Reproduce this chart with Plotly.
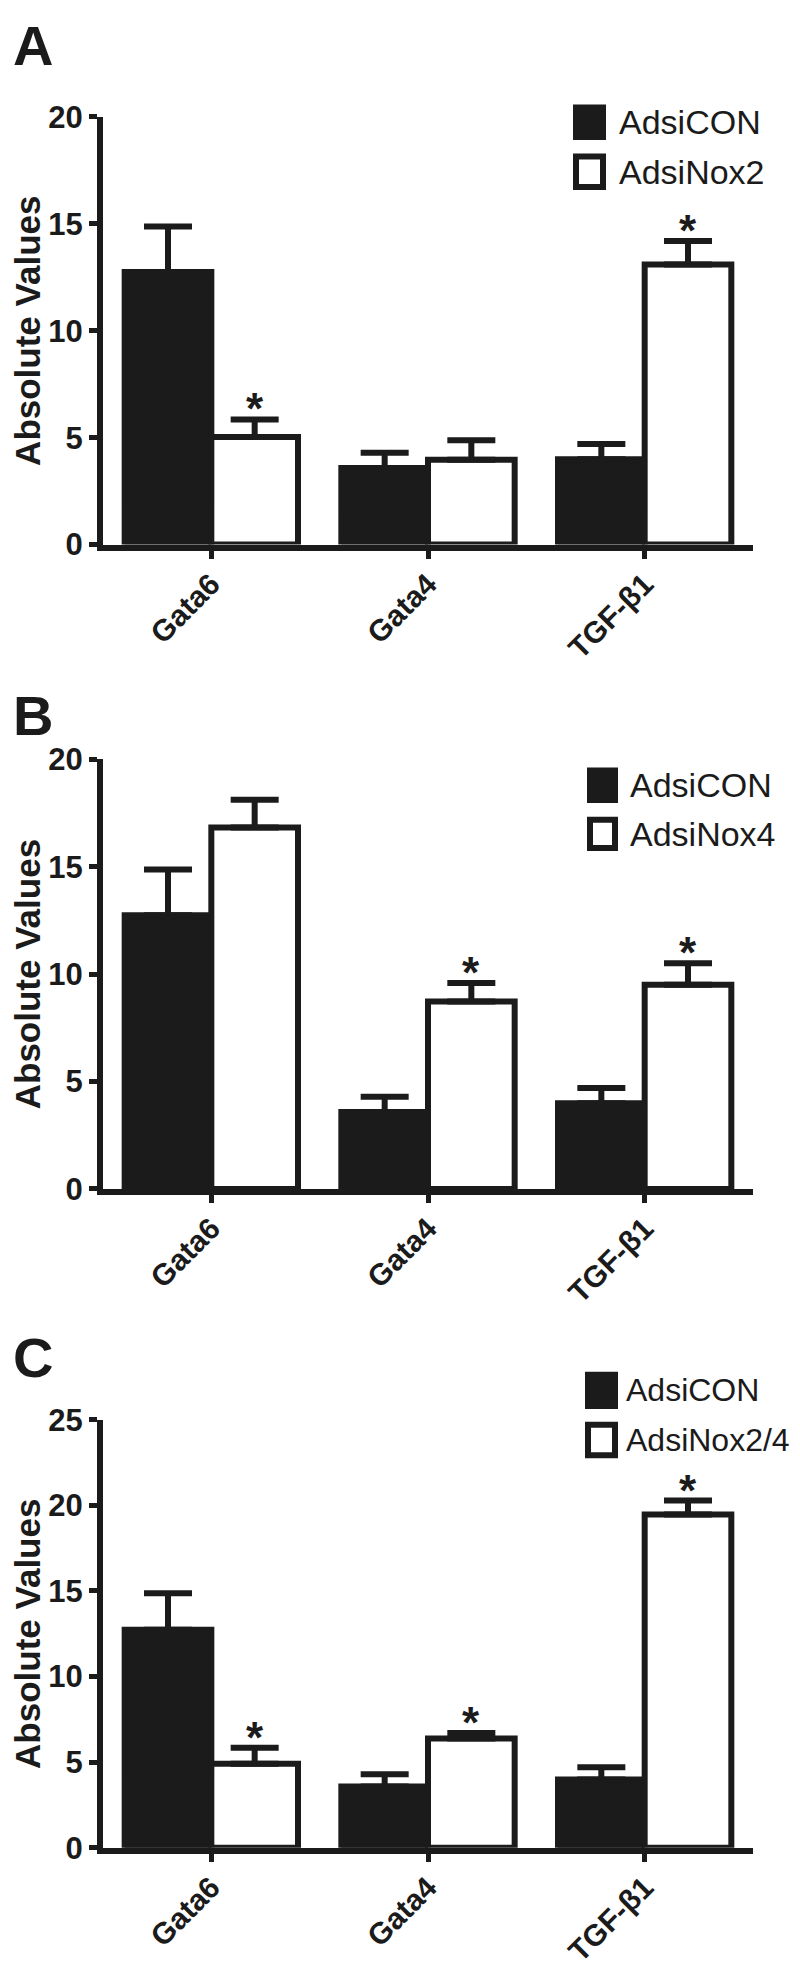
import plotly.graph_objects as go

# ---------------- data ----------------
categories = ["Gata6", "Gata4", "TGF-β1"]

con_name = "AdsiCON"
con_vals = [12.74, 3.58, 3.99]
con_err = [2.13, 0.71, 0.71]

a_name = "AdsiNox2"
a_vals = [5.03, 3.97, 13.10]
a_err = [0.82, 0.91, 1.09]
a_sig = [True, False, True]

b_name = "AdsiNox4"
b_vals = [16.82, 8.73, 9.50]
b_err = [1.29, 0.85, 1.00]
b_sig = [False, True, True]

c_name = "AdsiNox2/4"
c_vals = [4.91, 6.38, 19.47]
c_err = [0.93, 0.32, 0.81]
c_sig = [True, True, True]

panel_letters = ["A", "B", "C"]
y_max = [20, 20, 25]
y_ticks = [[0, 5, 10, 15, 20], [0, 5, 10, 15, 20], [0, 5, 10, 15, 20, 25]]

# ---------------- styling ----------------
W, H = 800, 1971
INK = "#1b1b1b"
FONT = "Liberation Sans, Arial, Helvetica, sans-serif"
LW = 6
BARGAP = 0.2

# panel geometry in pixels: (top of axis, zero line)
panel_px = [(93.5, 529.0), (747.5, 1185.0), (1420.0, 1855.7)]
x_left_px, x_right_px = 95.0, 745.0
letter_cy = [21, 703, 1357]
legend_px = [  # (square x0, square x1, text x, black y0, black y1, white y0, white y1, font)
    (565, 598, 609, 81, 117, 131, 168, 34),
    (579, 610, 620, 756, 792, 806, 841, 34),
    (577, 610, 616, 1371, 1409, 1422, 1459, 32),
]


def px_x(x):
    return x / W


def px_y(y):
    return 1 - y / H


fig = go.Figure()
series = [(a_name, a_vals, a_err, a_sig), (b_name, b_vals, b_err, b_sig), (c_name, c_vals, c_err, c_sig)]
xs = list(range(len(categories)))
annotations = []
shapes = []

for p, (name, vals, errs, sig) in enumerate(series):
    suffix = "" if p == 0 else str(p + 1)
    xa, ya = "x" + suffix, "y" + suffix
    fig.add_trace(go.Bar(
        x=xs, y=con_vals, name=con_name, xaxis=xa, yaxis=ya,
        marker=dict(color=INK, line=dict(color=INK, width=LW)),
        error_y=dict(type="data", array=con_err, symmetric=False,
                     arrayminus=[0] * len(con_err), color=INK, thickness=LW, width=24),
        offsetgroup="con", showlegend=False,
    ))
    fig.add_trace(go.Bar(
        x=xs, y=vals, name=name, xaxis=xa, yaxis=ya,
        marker=dict(color="white", line=dict(color=INK, width=LW)),
        error_y=dict(type="data", array=errs, symmetric=False,
                     arrayminus=[0] * len(errs), color=INK, thickness=LW, width=24),
        offsetgroup="trt", showlegend=False,
    ))
    top, zero = panel_px[p]
    fig.layout["xaxis" + suffix] = dict(
        domain=[px_x(x_left_px), px_x(x_right_px)], anchor=ya,
        range=[-0.5, 2.5], tickvals=xs, ticktext=categories, tickangle=-45,
        showline=True, linewidth=LW, linecolor=INK, ticks="outside",
        ticklen=8, tickwidth=5, tickcolor=INK, showgrid=False, zeroline=False,
        ticklabelstandoff=-4,
        tickfont=dict(family=FONT, size=30, color=INK, weight="bold"),
    )
    fig.layout["yaxis" + suffix] = dict(
        domain=[px_y(zero), px_y(top)], anchor=xa,
        range=[0, y_max[p]], tickvals=y_ticks[p],
        showline=True, linewidth=LW, linecolor=INK, ticks="outside",
        ticklen=8, tickwidth=5, tickcolor=INK, showgrid=False, zeroline=False,
        tickfont=dict(family=FONT, size=31, color=INK, weight="bold"),
        title=dict(text="Absolute Values", standoff=16,
                   font=dict(family=FONT, size=35, color=INK, weight="bold")),
    )
    # significance stars
    off = (1 - BARGAP) / 4
    for i, s in enumerate(sig):
        if s:
            annotations.append(dict(
                x=i + off, y=vals[i] + errs[i], xref=xa, yref=ya, text="*",
                showarrow=False, yanchor="bottom", yshift=-16,
                font=dict(family=FONT, size=44, color=INK, weight="bold"),
            ))
    # panel letter
    annotations.append(dict(
        x=px_x(3), y=px_y(letter_cy[p]), xref="paper", yref="paper",
        text=panel_letters[p], showarrow=False, xanchor="left", yanchor="middle",
        font=dict(family=FONT, size=56, color=INK, weight="bold"),
    ))
    # legend
    sx0, sx1, tx, by0, by1, wy0, wy1, fs = legend_px[p]
    shapes.append(dict(type="rect", xref="paper", yref="paper",
                       x0=px_x(sx0), x1=px_x(sx1), y0=px_y(by1), y1=px_y(by0),
                       fillcolor=INK, line=dict(color=INK, width=0)))
    shapes.append(dict(type="rect", xref="paper", yref="paper",
                       x0=px_x(sx0 + 3), x1=px_x(sx1 - 3), y0=px_y(wy1 - 3), y1=px_y(wy0 + 3),
                       fillcolor="white", line=dict(color=INK, width=LW)))
    for label, y0, y1 in [(con_name, by0, by1), (name, wy0, wy1)]:
        annotations.append(dict(
            x=px_x(tx), y=px_y((y0 + y1) / 2),
            xref="paper", yref="paper", text=label, showarrow=False,
            xanchor="left", yanchor="middle",
            font=dict(family=FONT, size=fs, color=INK),
        ))

fig.update_layout(
    width=W, height=H, margin=dict(l=0, r=0, t=0, b=0),
    paper_bgcolor="white", plot_bgcolor="white",
    barmode="group", bargap=BARGAP, bargroupgap=0,
    annotations=annotations, shapes=shapes, showlegend=False,
)

fig.write_html("out.html")
